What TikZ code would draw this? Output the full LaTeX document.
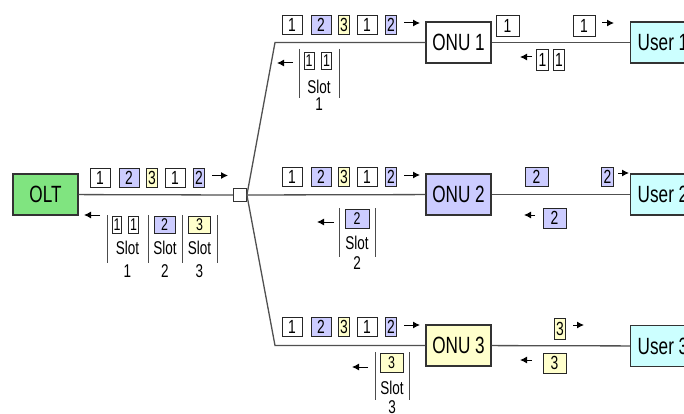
\documentclass[tikz,border=0pt]{standalone}
\usepackage{fontspec}
\setmainfont{Liberation Sans}[FakeStretch=0.73]
\usetikzlibrary{arrows.meta}
\definecolor{oltgreen}{RGB}{128,228,128}
\definecolor{slottwo}{RGB}{204,204,255}
\definecolor{slotthree}{RGB}{255,255,204}
\definecolor{usercyan}{RGB}{204,255,255}
\definecolor{wiregray}{RGB}{80,80,80}
\begin{document}
\begin{tikzpicture}[x=1pt,y=-1pt,
    unit/.style={draw=black!80, line width=1.1pt, minimum width=65, minimum height=41,
      inner sep=0, font=\fontsize{23.5}{23.5}\selectfont},
    pkt/.style={draw=black!85, line width=0.8pt, minimum height=19, inner sep=0,
      font=\fontsize{19}{19}\selectfont},
    wide/.style={pkt, minimum width=20},
    narrow/.style={pkt, minimum width=11.5},
    upk/.style={pkt, minimum height=16.5, font=\fontsize{17}{17}\selectfont},
    slotlbl/.style={inner sep=0, font=\fontsize{18.5}{18.5}\selectfont},
    wire/.style={draw=wiregray, line width=1.3pt},
    bar/.style={draw=black!70, line width=0.8pt},
    dir/.style={line width=1pt, -{Latex[length=7,width=7]}}]
  \useasboundingbox (0,0) rectangle (684,414);
  \clip (0,0) rectangle (684,414);

  % units
  \node[unit, fill=oltgreen] (olt) at (45.5,194.5) {OLT};
  \node[draw=black!80, fill=white, line width=0.8pt, minimum size=13, inner sep=0] (split) at (240,195) {};
  \node[unit, fill=white] (onu1) at (458.5,42.5) {ONU 1};
  \node[unit, fill=slottwo] (onu2) at (458.5,194.5) {ONU 2};
  \node[unit, fill=slotthree] (onu3) at (458.5,345.5) {ONU 3};
  \node[unit, fill=usercyan] (user1) at (663,42.5) {User 1};
  \node[unit, fill=usercyan] (user2) at (663,194.5) {User 2};
  \node[unit, fill=usercyan] (user3) at (663,346) {User 3};
  \coordinate (bend1) at (275,42.5);
  \coordinate (bend3) at (275,345.5);

  % fibre
  \begin{scope}[wire]
    \draw (olt) to (split);
    \draw (split.east) -- (bend1) -- (onu1);
    \draw (split) to (onu2);
    \draw (split.east) -- (bend3) -- (onu3);
    \draw (onu1) to (user1);
    \draw (onu2) to (user2);
    \draw (onu3) to (user3);
  \end{scope}

  % downstream frames
  \foreach \f/\sx/\sy in {o/90/177.5, a/282/25, b/282/177, c/282/327} {
    \node[wide] (\f-p1) at (\sx+10,\sy) {1};
    \node[wide, fill=slottwo] (\f-p2) at (\sx+39,\sy) {2};
    \node[narrow, fill=slotthree] (\f-p3) at (\sx+62,\sy) {3};
    \node[wide] (\f-p4) at (\sx+85,\sy) {1};
    \node[narrow, fill=slottwo] (\f-p5) at (\sx+109,\sy) {2};
    \draw[dir] (\sx+122,\sy-2) -- (\sx+138,\sy-2);
  }

  % upstream slots at the OLT
  \draw[dir] (100,215) -- (84,215);
  \foreach \x in {107,148,182,217}
    \draw[bar] (\x,215) -- (\x,263);
  \node[upk, minimum width=9.5] (uo1) at (117,225) {1};
  \node[upk, minimum width=9.5] (uo2) at (133.5,225) {1};
  \node[upk, minimum width=21, fill=slottwo] (uo3) at (164.5,225) {2};
  \node[upk, minimum width=22, fill=slotthree] (uo4) at (199.5,225) {3};
  \node[slotlbl] (so1) at (127.5,248) {Slot};
  \node[slotlbl] (so2) at (165,248) {Slot};
  \node[slotlbl] (so3) at (199.5,248) {Slot};
  \node[slotlbl] (no1) at (127.5,271) {1};
  \node[slotlbl] (no2) at (165,271) {2};
  \node[slotlbl] (no3) at (199.5,271) {3};

  % upstream slots on the branches
  \draw[dir] (293,63) -- (277,63);
  \draw[bar] (299,49) -- (299,98);
  \draw[bar] (339,49) -- (339,98);
  \node[upk, minimum width=10] (ua1) at (309,61) {1};
  \node[upk, minimum width=10] (ua2) at (326.5,61) {1};
  \node[slotlbl] (sa) at (319,86.5) {Slot};
  \node[slotlbl] (na) at (319,104) {1};

  \draw[dir] (334,222) -- (317,222);
  \draw[bar] (339,208) -- (339,257);
  \draw[bar] (375,208) -- (375,257);
  \node[upk, minimum width=24, minimum height=19, fill=slottwo] (ub) at (357,218.5) {2};
  \node[slotlbl] (sb) at (357,243) {Slot};
  \node[slotlbl] (nb) at (357,263) {2};

  \draw[dir] (368,367) -- (352,367);
  \draw[bar] (375,352) -- (375,400);
  \draw[bar] (409,352) -- (409,400);
  \node[upk, minimum width=23, minimum height=19, fill=slotthree] (uc) at (391.5,362.5) {3};
  \node[slotlbl] (sc) at (392,388) {Slot};
  \node[slotlbl] (nc) at (392,407) {3};

  % ONU to user
  \node[wide, minimum width=23, minimum height=21] (d1a) at (507.5,25.5) {1};
  \node[wide, minimum width=22, minimum height=21] (d1b) at (584,25.5) {1};
  \draw[dir] (602,23) -- (614,23);
  \draw[dir] (532,57) -- (520,57);
  \node[narrow, minimum height=21] (r1a) at (542.5,59.5) {1};
  \node[narrow, minimum height=21] (r1b) at (559,59.5) {1};

  \node[wide, minimum width=23, fill=slottwo] (d2a) at (536.5,177) {2};
  \node[narrow, fill=slottwo] (d2b) at (607.5,177) {2};
  \draw[dir] (618,173) -- (629,173);
  \draw[dir] (535,215) -- (524,215);
  \node[wide, minimum width=23, minimum height=20, fill=slottwo] (r2) at (554.5,218) {2};

  \node[narrow, minimum height=21, fill=slotthree] (d3) at (560,328.5) {3};
  \draw[dir] (573,325) -- (584,325);
  \draw[dir] (532,360) -- (520,360);
  \node[wide, minimum width=23, minimum height=20, fill=slotthree] (r3) at (554.5,363) {3};
\end{tikzpicture}
\end{document}
